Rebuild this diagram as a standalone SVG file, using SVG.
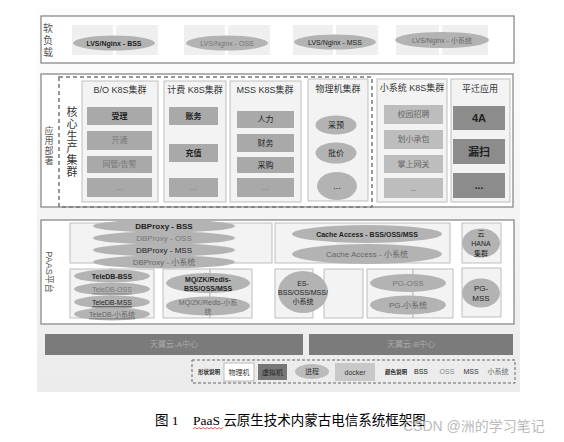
<svg xmlns="http://www.w3.org/2000/svg" width="564" height="442" viewBox="0 0 564 442">
<defs>
<linearGradient id="bg" x1="0" y1="0" x2="0" y2="1">
<stop offset="0" stop-color="#fdfdfd"/>
<stop offset="0.5" stop-color="#f5f5f5"/>
<stop offset="1" stop-color="#ebebeb"/>
</linearGradient>
<style>
text{font-family:"Liberation Sans","Noto Sans CJK SC",sans-serif;text-anchor:middle;dominant-baseline:central}
.box{fill:#ffffff;stroke:#8a8a8a;stroke-width:1.3}
.pnl{fill:#f3f3f3;stroke:#b8b8b8;stroke-width:0.9}
.lbg{fill:#efefef}
.ell{fill:#b3b3b3}
.item{fill:#a9a9a9}
.small{fill:#bdbdbd}
.dark{fill:#8c8c8c}
.t7{font-size:7px}
.t8{font-size:8px}
.t9{font-size:9px}
.bss{fill:#222;font-weight:bold}
.oss{fill:#777}
.mss{fill:#222}
.xs{fill:#666}
.lab{font-size:10px;fill:#555}
.lab9{font-size:9px;fill:#555}
</style>
</defs>
<rect x="37" y="8" width="483" height="384" fill="url(#bg)"/>

<g id="load">
<rect class="box" x="41" y="16" width="473" height="47"/>
<text class="lab" x="48" y="28">软</text>
<text class="lab" x="48" y="40">负</text>
<text class="lab" x="48" y="52">载</text>
<rect class="lbg" x="72" y="25" width="41" height="30"/><rect class="lbg" x="116" y="25" width="42" height="30"/>
<rect class="lbg" x="184" y="25" width="41" height="30"/><rect class="lbg" x="228" y="25" width="42" height="30"/>
<rect class="lbg" x="293" y="25" width="40" height="30"/><rect class="lbg" x="336" y="25" width="42" height="30"/>
<rect class="lbg" x="396" y="25" width="43" height="30"/><rect class="lbg" x="442" y="25" width="46" height="30"/>
<ellipse class="ell" cx="114" cy="43" rx="41" ry="7.5"/>
<text class="t7 bss" x="114" y="43">LVS/Nginx - BSS</text>
<ellipse class="ell" cx="227" cy="43" rx="41" ry="7.5"/>
<text class="t7 oss" x="227" y="43">LVS/Nginx - OSS</text>
<ellipse class="ell" cx="335" cy="42" rx="41" ry="7.5"/>
<text class="t7 mss" x="335" y="42">LVS/Nginx - MSS</text>
<ellipse class="ell" cx="442" cy="40" rx="47" ry="8"/>
<text class="t7 xs" x="442" y="40">LVS/Nginx - 小系统</text>
</g>

<g id="app">
<rect class="box" x="41" y="74" width="472" height="133"/>
<text class="lab9" x="49" y="131">应</text>
<text class="lab9" x="49" y="141">用</text>
<text class="lab9" x="49" y="151">部</text>
<text class="lab9" x="49" y="161">署</text>
<rect x="59" y="77" width="313" height="130" fill="none" stroke="#777" stroke-width="1.5" stroke-dasharray="4 3"/>
<g font-size="11" fill="#333">
<text x="72" y="112">核</text><text x="72" y="124">心</text><text x="72" y="136">生</text>
<text x="72" y="148">产</text><text x="72" y="160">集</text><text x="72" y="172">群</text>
</g>
</g>

<g id="bo">
<rect class="pnl" x="82" y="81" width="76" height="121"/>
<text class="t9" x="120" y="90" fill="#333">B/O K8S集群</text>
<rect class="item" x="87" y="107" width="65" height="18"/><text class="t8 bss" x="119.5" y="116">受理</text>
<rect class="item" x="87" y="131" width="65" height="19"/><text class="t8 oss" x="119.5" y="140.5">开通</text>
<rect class="item" x="87" y="156" width="65" height="17"/><text class="t8 oss" x="119.5" y="164.5">网管/告警</text>
<rect class="item" x="87" y="178" width="65" height="19"/><text class="t8 oss" x="119.5" y="187">...</text>
</g>

<g id="jifei">
<rect class="pnl" x="164" y="81" width="62" height="121"/>
<text class="t9" x="195" y="90" fill="#333">计费 K8S集群</text>
<rect class="item" x="169" y="107" width="49" height="18"/><text class="t8 bss" x="193.5" y="116">账务</text>
<rect class="item" x="169" y="144" width="49" height="18"/><text class="t8 bss" x="193.5" y="153">充值</text>
<rect class="item" x="169" y="178" width="49" height="19"/><text class="t8 oss" x="193.5" y="187">...</text>
</g>

<g id="mss">
<rect class="pnl" x="230" y="81" width="71" height="121"/>
<text class="t9" x="265" y="90" fill="#333">MSS K8S集群</text>
<rect class="item" x="237" y="111" width="57" height="17"/><text class="t8 mss" x="265.5" y="119.5">人力</text>
<rect class="item" x="237" y="134" width="57" height="18"/><text class="t8 mss" x="265.5" y="143">财务</text>
<rect class="item" x="237" y="157" width="57" height="16"/><text class="t8 mss" x="265.5" y="165">采购</text>
<rect class="item" x="237" y="178" width="57" height="19"/><text class="t8 oss" x="265.5" y="187">...</text>
</g>

<g id="phys">
<rect class="pnl" x="308" y="79" width="60" height="122"/>
<text class="t9" x="338" y="89" fill="#333">物理机集群</text>
<ellipse class="ell" cx="336" cy="125" rx="20.5" ry="9.5"/><text class="t8 mss" x="336" y="125">采预</text>
<ellipse class="ell" cx="336" cy="153" rx="20.5" ry="10.5"/><text class="t8 mss" x="336" y="153">批价</text>
<ellipse class="ell" cx="337" cy="186" rx="20" ry="14"/><text class="t9 mss" x="337" y="186">...</text>
</g>

<g id="xiao">
<rect class="pnl" x="377" y="79" width="70" height="123"/>
<text class="t9" x="412" y="88" fill="#333">小系统 K8S集群</text>
<rect class="small" x="384" y="105" width="59" height="19"/><text class="t8 xs" x="413.5" y="114.5">校园招聘</text>
<rect class="small" x="384" y="130" width="59" height="19"/><text class="t8 xs" x="413.5" y="139.5">划小承包</text>
<rect class="small" x="384" y="155" width="59" height="18"/><text class="t8 xs" x="413.5" y="164">掌上网关</text>
<rect class="small" x="384" y="178" width="59" height="20"/><text class="t8 xs" x="413.5" y="188">...</text>
</g>

<g id="pingqian">
<rect class="pnl" x="451" y="79" width="59" height="123"/>
<text class="t9" x="480" y="89" fill="#333">平迁应用</text>
<rect class="dark" x="453" y="106" width="52" height="24"/><text x="479" y="118" font-size="11" font-weight="bold" fill="#222">4A</text>
<rect class="dark" x="453" y="139" width="52" height="25"/><text x="479" y="151.5" font-size="11" font-weight="bold" fill="#222">漏扫</text>
<rect class="dark" x="453" y="173" width="52" height="25"/><text x="479" y="185.5" font-size="10" font-weight="bold" fill="#222">...</text>
</g>

<g id="paas">
<rect class="box" x="41" y="220" width="473" height="104"/>
<text x="0" y="0" font-size="9" fill="#555" transform="translate(49 272) rotate(90)">PAAS平台</text>
</g>

<g id="dbproxy">
<rect class="pnl" x="70" y="223" width="202" height="40"/>
<ellipse class="ell" cx="164" cy="226" rx="71" ry="6.5"/><text class="t8 bss" x="164" y="226">DBProxy - BSS</text>
<ellipse class="ell" cx="164" cy="238" rx="71" ry="6.5"/><text class="t8 oss" x="164" y="238">DBProxy - OSS</text>
<ellipse class="ell" cx="164" cy="250" rx="71" ry="6.5"/><text class="t8 mss" x="164" y="250">DBProxy - MSS</text>
<ellipse class="ell" cx="164" cy="262" rx="71" ry="6.5"/><text class="t8 xs" x="164" y="262">DBProxy - 小系统</text>
</g>

<g id="cache">
<rect class="pnl" x="275" y="223" width="175" height="40"/>
<ellipse class="ell" cx="367" cy="234" rx="75" ry="9"/><text class="t7 bss" x="367" y="234">Cache Access - BSS/OSS/MSS</text>
<ellipse class="ell" cx="367" cy="254" rx="75" ry="10"/><text class="t8 xs" x="367" y="254">Cache Access - 小系统</text>
</g>

<g id="hana">
<rect class="pnl" x="462" y="223" width="39" height="40"/>
<ellipse class="ell" cx="481" cy="243" rx="19" ry="14.5"/>
<text class="t7 mss" x="481" y="233">云</text>
<text class="t7 mss" x="481" y="243">HANA</text>
<text class="t7 mss" x="481" y="253">集群</text>
</g>

<g id="teledb">
<rect class="pnl" x="70" y="269" width="42" height="49"/>
<rect class="pnl" x="110" y="269" width="44" height="49"/>
<ellipse class="ell" cx="112" cy="276" rx="38" ry="6.5"/><text class="t7 bss" x="112" y="276">TeleDB-BSS</text>
<ellipse class="ell" cx="112" cy="289" rx="38" ry="6.5"/><text class="t7 oss" x="112" y="289" text-decoration="underline">TeleDB-OSS</text>
<ellipse class="ell" cx="112" cy="302" rx="38" ry="6.5"/><text class="t7 mss" x="112" y="302" text-decoration="underline">TeleDB-MSS</text>
<ellipse class="ell" cx="112" cy="314" rx="38" ry="6.5"/><text class="t7 xs" x="112" y="314" text-decoration="underline">TeleDB-小系统</text>
</g>

<g id="mq">
<rect class="pnl" x="163" y="269" width="47" height="49"/>
<rect class="pnl" x="210" y="269" width="42" height="49"/>
<ellipse class="ell" cx="208" cy="283" rx="42" ry="10"/>
<text class="t7 bss" x="208" y="279">MQ/ZK/Redis-</text>
<text class="t7 bss" x="208" y="288">BSS/OSS/MSS</text>
<ellipse class="ell" cx="208" cy="306" rx="42" ry="9.5"/>
<text class="t7 xs" x="208" y="302">MQ/ZK/Redis-小系</text>
<text class="t7 xs" x="208" y="311">统</text>
</g>

<g id="es">
<rect class="pnl" x="275" y="269" width="38" height="49"/>
<rect class="pnl" x="324" y="269" width="39" height="49"/>
<ellipse class="ell" cx="303" cy="292" rx="25" ry="21"/>
<text class="t7 mss" x="303" y="283">ES-</text>
<text class="t7 mss" x="303" y="292">BSS/OSS/MSS/</text>
<text class="t7 mss" x="303" y="301">小系统</text>
</g>

<g id="pg">
<rect class="pnl" x="367" y="269" width="46" height="49"/>
<rect class="pnl" x="413" y="269" width="40" height="49"/>
<ellipse class="ell" cx="408" cy="283" rx="38" ry="9"/><text class="t8 oss" x="408" y="283">PG-OSS</text>
<ellipse class="ell" cx="408" cy="305" rx="38" ry="9.5"/><text class="t8 xs" x="408" y="305">PG-小系统</text>
</g>

<g id="pgmss">
<rect class="pnl" x="462" y="268" width="39" height="49"/>
<ellipse class="ell" cx="481" cy="293" rx="19" ry="14.5"/>
<text class="t8 mss" x="481" y="288">PG-</text>
<text class="t8 mss" x="481" y="298">MSS</text>
</g>

<g id="cloudA">
<rect x="45" y="334" width="258" height="21" fill="#7b7b7b"/>
<text class="t8" x="174" y="344.5" fill="#aaaaaa">天翼云-A中心</text>
</g>
<g id="cloudB">
<rect x="309" y="334" width="204" height="21" fill="#7b7b7b"/>
<text class="t8" x="411" y="344.5" fill="#aaaaaa">天翼云-B中心</text>
</g>

<g id="legend">
<rect x="192" y="360" width="323" height="23" fill="none" stroke="#666" stroke-width="1" stroke-dasharray="3 2"/>
<text x="209" y="371.5" font-size="5.5" font-weight="bold" fill="#222">形状说明</text>
<rect x="224" y="363" width="30" height="18" fill="#ffffff" stroke="#aaa" stroke-width="0.8"/>
<text class="t7" x="239" y="372" fill="#333">物理机</text>
<rect x="258" y="364" width="29" height="16" fill="#777"/>
<text class="t7" x="272.5" y="372" fill="#222">虚拟机</text>
<ellipse cx="312" cy="371.5" rx="17" ry="7.5" fill="#bbb"/>
<text class="t7" x="312" y="371.5" fill="#333">进程</text>
<rect x="335" y="363" width="40" height="18" fill="#c8c8c8"/>
<text class="t7" x="355" y="372" fill="#333">docker</text>
<text x="396" y="371.5" font-size="5.5" font-weight="bold" fill="#222">颜色说明</text>
<text class="t7" x="421" y="371.5" fill="#222">BSS</text>
<text class="t7" x="447" y="371.5" fill="#888">OSS</text>
<text class="t7" x="471" y="371.5" fill="#333">MSS</text>
<text class="t7" x="498" y="371.5" fill="#666">小系统</text>
</g>

<g id="caption">
<text x="155" y="420" font-size="13.5" fill="#000" style="text-anchor:start;font-family:'Liberation Serif','Noto Sans CJK SC',serif">图 1</text>
<text x="193" y="420" font-size="13.5" fill="#000" style="text-anchor:start;font-family:'Liberation Serif','Noto Sans CJK SC',serif">PaaS 云原生技术内蒙古电信系统框架图</text>
<path d="M193 429 l2 -1.5 l2 1.5 l2 -1.5 l2 1.5 l2 -1.5 l2 1.5 l2 -1.5 l2 1.5 l2 -1.5 l2 1.5 l2 -1.5 l2 1.5 l2 -1.5 l2 1.5 l2 -1.5" fill="none" stroke="#e03030" stroke-width="0.8"/>
<text x="403" y="426" font-size="14" fill="#bbbbbb" style="text-anchor:start">CSDN @洲的学习笔记</text>
</g>
</svg>
